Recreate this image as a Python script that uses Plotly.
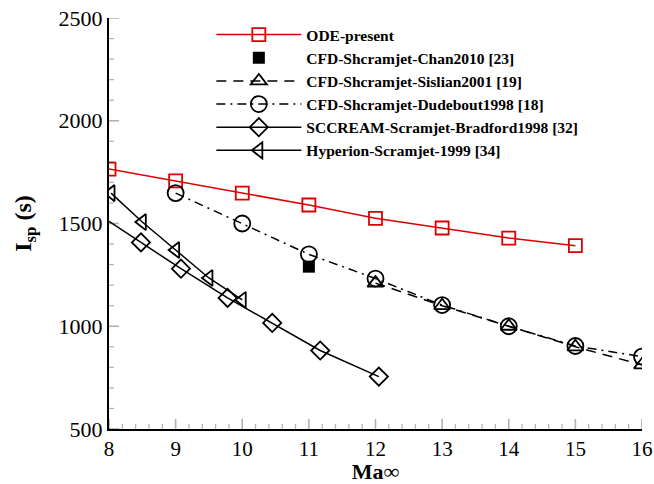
import plotly.graph_objects as go

ode_x = [8, 9, 10, 11, 12, 13, 14, 15]
ode_y = [1765, 1707, 1648, 1590, 1525, 1478, 1429, 1392]

chan_x = [11]
chan_y = [1290]

sis_x = [12, 13, 14, 15, 16]
sis_y = [1210, 1100, 1000, 900, 812]

dud_x = [9, 10, 11, 12, 13, 14, 15, 16]
dud_y = [1648, 1500, 1350, 1232, 1103, 1000, 904, 852]

brad_x = [8.0, 8.48, 9.08, 9.78, 10.45, 11.17, 12.05]
brad_y = [1510, 1408, 1280, 1138, 1016, 882, 755]

hyp_x = [8.03, 8.5, 9.0, 9.5, 10.0]
hyp_y = [1648, 1507, 1371, 1235, 1128]

x_range = [8, 16]
y_range = [500, 2500]
x_major = list(range(8, 17))
y_major = [500, 1000, 1500, 2000, 2500]
x_minor = [8 + 0.2 * i for i in range(41) if i % 5 != 0]
y_minor = [500 + 100 * i for i in range(21) if i % 5 != 0]

W, H = 654, 484
ML, MR, MT, MB = 109, 12, 18, 55
PW, PH = W - ML - MR, H - MT - MB

fig = go.Figure()
fig.add_trace(go.Scatter(x=ode_x, y=ode_y, name="ODE-present", mode="lines+markers",
    line=dict(color="#dd0000", width=1.5),
    marker=dict(symbol="square-open", size=13, color="#dd0000", line=dict(width=1.8, color="#dd0000"))))
fig.add_trace(go.Scatter(x=chan_x, y=chan_y, name="CFD-Shcramjet-Chan2010 [23]", mode="markers",
    marker=dict(symbol="square", size=12, color="black", line=dict(width=0))))
fig.add_trace(go.Scatter(x=sis_x, y=sis_y, name="CFD-Shcramjet-Sislian2001 [19]", mode="lines+markers",
    line=dict(color="black", width=1.5, dash="10px,7px"),
    marker=dict(symbol="triangle-up-open", size=14, color="black", line=dict(width=1.8, color="black"))))
fig.add_trace(go.Scatter(x=dud_x, y=dud_y, name="CFD-Shcramjet-Dudebout1998 [18]", mode="lines+markers",
    line=dict(color="black", width=1.5, dash="9px,5px,2px,5px"),
    marker=dict(symbol="circle-open", size=16, color="black", line=dict(width=1.8, color="black"))))
# first segment of the Bradford curve (no symbol at its first point)
fig.add_trace(go.Scatter(x=brad_x[:2], y=brad_y[:2], mode="lines", showlegend=False, hoverinfo="skip",
    line=dict(color="black", width=1.5)))
fig.add_trace(go.Scatter(x=brad_x[1:], y=brad_y[1:], name="SCCREAM-Scramjet-Bradford1998 [32]", mode="lines+markers",
    line=dict(color="black", width=1.5),
    marker=dict(symbol="diamond-open", size=14, color="black", opacity=1, line=dict(width=1.8, color="black"))))
fig.add_trace(go.Scatter(x=hyp_x, y=hyp_y, name="Hyperion-Scramjet-1999 [34]", mode="lines+markers",
    line=dict(color="black", width=1.5),
    marker=dict(symbol="triangle-left-open", size=14, color="black", line=dict(width=1.8, color="black"))))

# inward tick marks, placed on the axes' own data scale
shapes = []
for v in x_major:
    shapes.append(dict(type="line", xref="x", yref="paper", x0=v, x1=v, y0=0, y1=10 / PH,
                       line=dict(color="black", width=1.6), layer="above"))
for v in x_minor:
    shapes.append(dict(type="line", xref="x", yref="paper", x0=v, x1=v, y0=0, y1=5 / PH,
                       line=dict(color="black", width=1.2), layer="above"))
for v in y_major:
    shapes.append(dict(type="line", xref="paper", yref="y", x0=0, x1=10 / PW, y0=v, y1=v,
                       line=dict(color="black", width=1.6), layer="above"))
for v in y_minor:
    shapes.append(dict(type="line", xref="paper", yref="y", x0=0, x1=5 / PW, y0=v, y1=v,
                       line=dict(color="black", width=1.2), layer="above"))

fig.update_layout(
    template="simple_white",
    width=W, height=H,
    margin=dict(l=ML, r=MR, t=MT, b=MB),
    paper_bgcolor="white", plot_bgcolor="white",
    font=dict(family="Liberation Serif", size=21, color="black"),
    showlegend=True,
    legend=dict(x=0.192, y=1.0, xanchor="left", yanchor="top",
                font=dict(family="Liberation Serif", size=15.5, color="black", weight="bold"),
                bgcolor="rgba(0,0,0,0)", itemwidth=85, tracegroupgap=0),
    shapes=shapes,
)
fig.update_xaxes(range=x_range, tickmode="array", tickvals=x_major, showgrid=False, zeroline=False,
    automargin=False, showline=True, linecolor="black", linewidth=2, ticks="",
    title=dict(text="<b>Ma∞</b>", font=dict(size=22), standoff=4), tickfont=dict(size=21))
fig.update_yaxes(range=y_range, tickmode="array", tickvals=y_major, showgrid=False, zeroline=False,
    automargin=False, showline=True, linecolor="black", linewidth=2, ticks="",
    title=dict(text="<b>I<sub>sp</sub> (s)</b>", font=dict(size=24), standoff=20), tickfont=dict(size=22))

fig.write_html("out.html")
